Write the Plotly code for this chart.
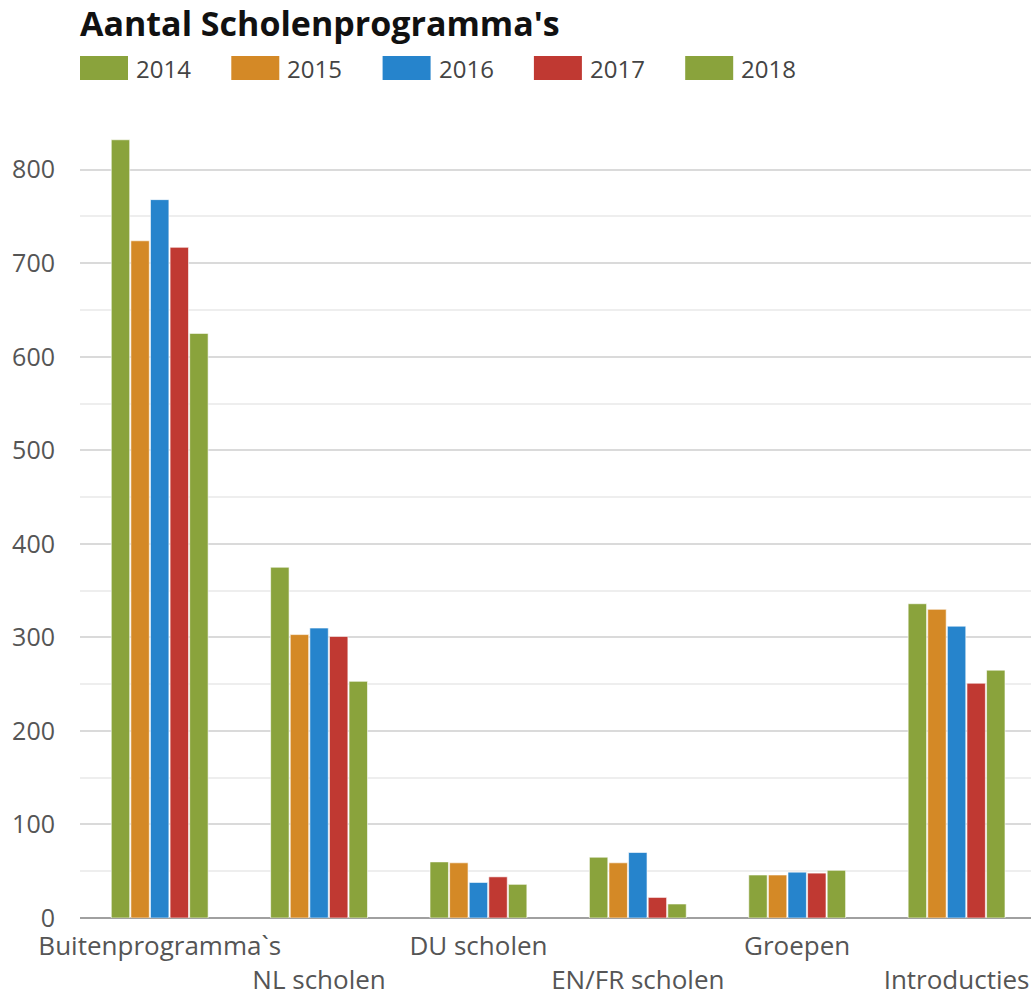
import plotly.graph_objects as go

categories = ["Buitenprogramma`s", "NL scholen", "DU scholen", "EN/FR scholen", "Groepen", "Introducties"]
years = ["2014", "2015", "2016", "2017", "2018"]
v2014 = [832, 375, 60, 65, 46, 336]
v2015 = [724, 303, 59, 59, 46, 330]
v2016 = [768, 310, 38, 70, 49, 312]
v2017 = [717, 301, 44, 22, 48, 251]
v2018 = [625, 253, 36, 15, 51, 265]
series = [v2014, v2015, v2016, v2017, v2018]
colors = ["#8AA33C", "#D48926", "#2684CC", "#C03932", "#8AA33C"]
tick_labels = [c if i % 2 == 0 else "<br>" + c for i, c in enumerate(categories)]

W, H = 1031, 998
ML, MR, MT, MB = 80, 0, 122, 80
PW, PH = W - ML - MR, H - MT - MB
FONT = "Open Sans"

def px_x(x):
    return (x - ML) / PW

def px_y(y):
    return (H - MB - y) / PH

fig = go.Figure()
for name, vals, col in zip(years, series, colors):
    fig.add_trace(go.Bar(
        name=name, x=list(range(len(categories))), y=vals,
        marker=dict(color=col, line=dict(color="rgba(255,255,255,0.6)", width=1)),
        showlegend=False,
    ))

shapes, annotations = [], []
leg_x0, leg_step = 80, 151.3
for i, (name, col) in enumerate(zip(years, colors)):
    x0 = leg_x0 + i * leg_step
    shapes.append(dict(type="rect", xref="paper", yref="paper",
                       x0=px_x(x0), x1=px_x(x0 + 48), y0=px_y(80), y1=px_y(56),
                       fillcolor=col, line=dict(width=0)))
    annotations.append(dict(text=name, xref="paper", yref="paper",
                            x=px_x(x0 + 54), y=px_y(68), xanchor="left", yanchor="middle",
                            showarrow=False, font=dict(family=FONT, size=24, color="#444")))

fig.update_layout(
    width=W, height=H,
    margin=dict(l=ML, r=MR, t=MT, b=MB, autoexpand=False),
    paper_bgcolor="white", plot_bgcolor="white",
    barmode="group", bargap=0.385, bargroupgap=0.06,
    title=dict(text="<b>Aantal Scholenprogramma's</b>", x=80 / W, xref="container", xanchor="left",
               y=1 - 24 / H, yref="container", yanchor="middle", automargin=False,
               font=dict(family=FONT, size=34, color="#111")),
    shapes=shapes, annotations=annotations,
    xaxis=dict(range=[-0.5, 5.467], tickmode="array", tickvals=list(range(len(categories))),
               ticktext=tick_labels, showgrid=False, showline=False, ticks="", tickangle=0,
               automargin=False, ticklabelstandoff=10,
               tickfont=dict(family=FONT, size=26, color="#555")),
    yaxis=dict(range=[0, 851], tickmode="array", tickvals=[0, 100, 200, 300, 400, 500, 600, 700, 800],
               gridcolor="#dadada", gridwidth=1.5, zeroline=True, zerolinecolor="#a0a0a0", zerolinewidth=2,
               ticks="", ticklabelstandoff=24, showline=False, automargin=False,
               minor=dict(tickmode="array", tickvals=[50, 150, 250, 350, 450, 550, 650, 750, 850],
                          showgrid=True, gridcolor="#eeeeee", gridwidth=1.5),
               tickfont=dict(family=FONT, size=25, color="#555")),
    font=dict(family=FONT),
)
fig.write_html("out.html", config={"displayModeBar": False},
               post_script="document.body.style.margin='0';document.body.style.overflow='hidden';")
